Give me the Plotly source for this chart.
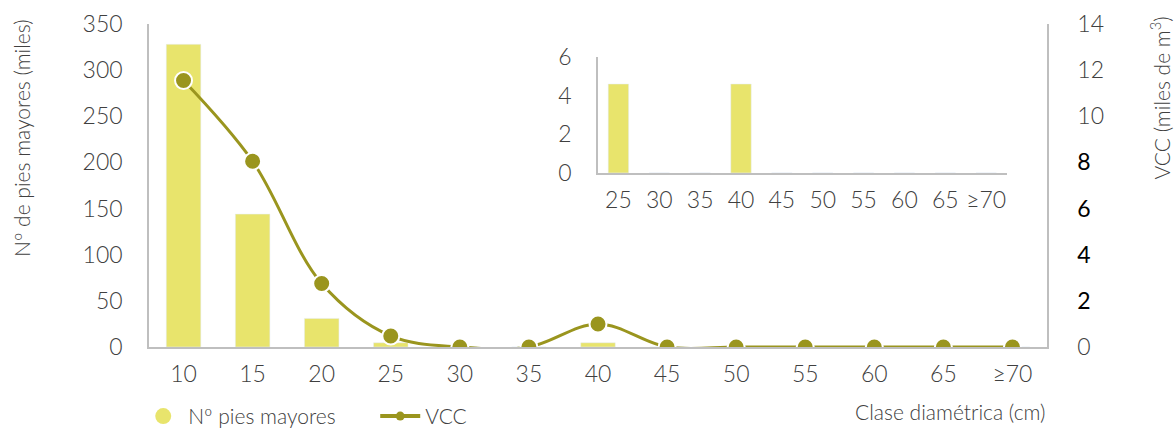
import plotly.graph_objects as go

categories = ["10", "15", "20", "25", "30", "35", "40", "45", "50", "55", "60", "65", "≥70"]
pies_mayores = [328, 144, 31, 4.6, 0, 0, 4.6, 0, 0, 0, 0, 0, 0]
vcc = [11.55, 8.05, 2.75, 0.48, 0.0, 0.0, 1.0, 0.0, 0.0, 0.0, 0.0, 0.0, 0.0]
inset_categories = categories[3:]
inset_pies = pies_mayores[3:]

left_ticks = [0, 50, 100, 150, 200, 250, 300, 350]
right_ticks = [0, 2, 4, 6, 8, 10, 12, 14]
inset_ticks = [0, 2, 4, 6]

BAR = "#e8e46c"
LINE = "#9a951e"
TXT = "#404040"
AX = "#bfbfbf"
FONT = "Lato"

right_text = []
for t in right_ticks:
    if t in (2, 4, 6, 8):
        right_text.append(f"<span style='fill:#000000;font-weight:400'>{t}</span>")
    else:
        right_text.append(str(t))

fig = go.Figure()
fig.add_trace(go.Bar(x=categories, y=pies_mayores, marker_color=BAR, width=0.5,
                     name="Nº pies mayores", showlegend=False, xaxis="x", yaxis="y"))
fig.add_trace(go.Scatter(x=categories, y=vcc, mode="lines+markers", name="VCC",
                         line=dict(color=LINE, width=3, shape="spline", smoothing=1.0),
                         marker=dict(size=17, color=LINE, line=dict(color="white", width=2)),
                         xaxis="x", yaxis="y2", showlegend=False))
# legend-only entries
fig.add_trace(go.Scatter(x=[None], y=[None], mode="markers", name="Nº pies mayores",
                         marker=dict(size=18, color=BAR, symbol="circle"), xaxis="x", yaxis="y"))
fig.add_trace(go.Scatter(x=[None], y=[None], mode="lines+markers", name="VCC",
                         line=dict(color=LINE, width=4), marker=dict(size=9, color=LINE),
                         xaxis="x", yaxis="y2"))
# inset
fig.add_trace(go.Bar(x=inset_categories, y=inset_pies, marker_color=BAR, width=0.5,
                     showlegend=False, xaxis="x3", yaxis="y3"))

tickfont = dict(family=FONT, size=23, color=TXT, weight=300)
titlefont = dict(family=FONT, size=21, color=TXT, weight=300)
fig.update_layout(
    width=1174, height=428,
    margin=dict(l=149, r=127, t=24, b=81, autoexpand=False),
    paper_bgcolor="white", plot_bgcolor="white",
    font=dict(family=FONT, color=TXT, weight=300),
    xaxis=dict(domain=[0, 1], type="category", range=[-0.5, len(categories) - 0.5],
               showline=True, linecolor=AX, linewidth=1.5,
               showgrid=False, ticks="", tickfont=tickfont, ticklabelstandoff=6, automargin=False),
    yaxis=dict(range=[0, 350], tickvals=left_ticks, showline=True, linecolor=AX, linewidth=1.5,
               showgrid=False, zeroline=False, ticks="", tickfont=tickfont, ticklabelstandoff=20,
               automargin=False),
    yaxis2=dict(range=[0, 14], tickvals=right_ticks, ticktext=right_text, overlaying="y", side="right",
                showline=True, linecolor=AX, linewidth=1.5, showgrid=False, zeroline=False, ticks="",
                tickfont=tickfont, ticklabelstandoff=24, automargin=False),
    xaxis3=dict(domain=[0.5, 0.955], anchor="y3", type="category",
                range=[-0.5, len(inset_categories) - 0.5], showline=True, linecolor=AX,
                linewidth=1.5, showgrid=False, ticks="", tickfont=tickfont, ticklabelstandoff=6,
                automargin=False),
    yaxis3=dict(domain=[0.539, 0.898], anchor="x3", range=[0, 6], tickvals=inset_ticks, showline=True,
                linecolor=AX, linewidth=1.5, showgrid=False, zeroline=False, ticks="",
                tickfont=tickfont, ticklabelstandoff=20, automargin=False),
    legend=dict(orientation="h", x=-0.012, xanchor="left", y=-0.215, yanchor="middle",
                font=dict(family=FONT, size=21, color=TXT, weight=300), itemwidth=40,
                entrywidth=182, bgcolor="rgba(0,0,0,0)"),
    annotations=[
        dict(text="Clase diamétrica (cm)", xref="paper", yref="paper", x=1.0, y=-0.2,
             xanchor="right", yanchor="middle", showarrow=False, font=titlefont),
        dict(text="Nº de pies mayores (miles)", xref="paper", yref="paper", x=-0.1414, y=1.022,
             xanchor="center", yanchor="top", textangle=-90, showarrow=False, font=titlefont),
        dict(text="VCC (miles de m<sup>3</sup>)", xref="paper", yref="paper", x=1.126, y=1.028,
             xanchor="center", yanchor="top", textangle=-90, showarrow=False, font=titlefont),
    ],
)

fig.write_html("out.html", config={"displayModeBar": False},
               post_script="document.body.style.margin='0';")
